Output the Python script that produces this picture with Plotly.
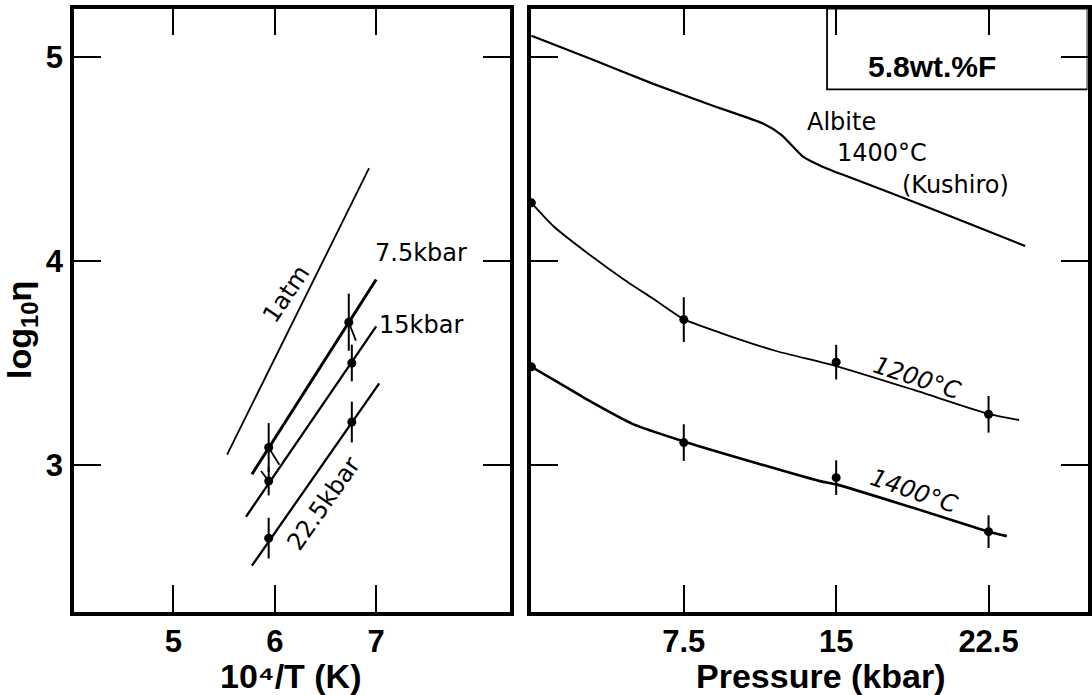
import plotly.graph_objects as go

# ---------------- Left panel data (10^4/T vs log10 eta) ----------------
atm_x = [5.53, 6.93]
atm_y = [3.05, 4.456]
kb75_x = [5.775, 7.0]
kb75_y = [2.954, 3.91]
kb15_x = [5.716, 7.0]
kb15_y = [2.745, 3.68]
kb225_x = [5.775, 7.03]
kb225_y = [2.505, 3.40]

pts75_x = [5.94, 6.73]
pts75_y = [3.085, 3.70]
err75 = [0.12, 0.14]
pts15_x = [5.94, 6.76]
pts15_y = [2.92, 3.50]
err15 = [0.07, 0.09]
pts225_x = [5.94, 6.76]
pts225_y = [2.64, 3.21]
err225 = [0.10, 0.10]

# short slanted error segments
terr_x = [5.94, 6.045, None, 5.865, 5.94, None, 6.73, 6.80]
terr_y = [3.085, 3.00, None, 2.97, 2.92, None, 3.70, 3.61]

left_xticks = [5, 6, 7]
yticks = [3, 4, 5]

# ---------------- Right panel data (Pressure vs log10 eta) ----------------
alb_x = [0, 3, 6, 9, 11.4, 12.3, 13.4, 14.3, 15.7, 18.2, 21.4, 24.3]
alb_y = [5.106, 4.99, 4.87, 4.76, 4.675, 4.62, 4.51, 4.465, 4.41, 4.315, 4.19, 4.074]

c1200_x = [0, 1.1, 2.75, 4.55, 6.0, 7.5, 9.3, 12.0, 15.0, 18.75, 22.5, 24.0]
c1200_y = [4.286, 4.17, 4.04, 3.91, 3.815, 3.715, 3.648, 3.56, 3.485, 3.37, 3.25, 3.22]

c1400_x = [0, 1.9, 2.75, 5.0, 7.5, 10.0, 14.2, 15.0, 18.75, 22.5, 23.4]
c1400_y = [3.481, 3.37, 3.32, 3.20, 3.115, 3.04, 2.92, 2.904, 2.79, 2.672, 2.65]

p1200_x = [0, 7.5, 15, 22.5]
p1200_y = [4.286, 3.713, 3.504, 3.248]
e1200 = [0, 0.11, 0.085, 0.09]
p1400_x = [0, 7.5, 15, 22.5]
p1400_y = [3.481, 3.109, 2.937, 2.672]
e1400 = [0, 0.09, 0.085, 0.08]

right_xticks = [7.5, 15, 22.5]
right_xticklabels = ["7.5", "15", "22.5"]

W, H = 1092, 695
fig = go.Figure()


def line(x, y, w, ax="", shape="linear"):
    fig.add_trace(go.Scatter(x=x, y=y, mode="lines",
                             line=dict(color="black", width=w, shape=shape, smoothing=0.6),
                             xaxis="x" + ax, yaxis="y" + ax, showlegend=False,
                             hoverinfo="skip", cliponaxis=False))


def points(x, y, e, ax=""):
    fig.add_trace(go.Scatter(x=x, y=y, mode="markers",
                             marker=dict(color="black", size=9),
                             error_y=dict(type="data", array=e, visible=True,
                                          color="black", thickness=2, width=0),
                             xaxis="x" + ax, yaxis="y" + ax, showlegend=False,
                             cliponaxis=False))


# left panel
line(atm_x, atm_y, 1.8)
line(kb75_x, kb75_y, 3.0)
line(kb15_x, kb15_y, 2.3)
line(kb225_x, kb225_y, 2.3)
line(terr_x, terr_y, 1.8)
points(pts75_x, pts75_y, err75)
points(pts15_x, pts15_y, err15)
points(pts225_x, pts225_y, err225)

# right panel
line(alb_x, alb_y, 2.2, "2", "spline")
line(c1200_x, c1200_y, 1.8, "2", "spline")
line(c1400_x, c1400_y, 2.6, "2", "spline")
points(p1200_x, p1200_y, e1200, "2")
points(p1400_x, p1400_y, e1400, "2")

tickfont = dict(family="Liberation Sans", size=31, color="black", weight="bold")
ydom = [1 - 611.5 / H, 1 - 8.5 / H]
common = dict(showline=True, linecolor="black", linewidth=3.5, mirror="ticks",
              ticks="inside", ticklen=27, tickwidth=1.6, tickcolor="black",
              showgrid=False, zeroline=False, tickfont=tickfont, fixedrange=True)

fig.update_layout(
    width=W, height=H,
    margin=dict(l=0, r=0, t=0, b=0),
    paper_bgcolor="white", plot_bgcolor="white",
    xaxis=dict(domain=[74 / W, 510 / W], range=[4.02, 8.32], tickvals=left_xticks,
               anchor="y", ticklabelstandoff=0, **common),
    yaxis=dict(domain=ydom, range=[2.28, 5.24], tickvals=yticks,
               anchor="x", ticklabelstandoff=1, **common),
    xaxis2=dict(domain=[531 / W, 1087.5 / W], range=[-0.02, 27.37], tickvals=right_xticks,
                ticktext=right_xticklabels, anchor="y2", ticklabelstandoff=0, **common),
    yaxis2=dict(domain=ydom, range=[2.28, 5.24], tickvals=yticks,
                anchor="x2", showticklabels=False, **common),
)

lab = dict(family="DejaVu Sans", size=24, color="black")
ann = []


def note(text, x, y, ax="", angle=0, xanchor="center", font=lab):
    ann.append(dict(text=text, x=x, y=y, xref="x" + ax, yref="y" + ax,
                    showarrow=False, textangle=angle, xanchor=xanchor,
                    yanchor="middle", font=font))


note("1atm", 6.113, 3.838, angle=-56)
note("7.5kbar", 7.443, 4.039)
note("15kbar", 7.443, 3.686)
note("22.5kbar", 6.478, 2.809, angle=-55)
note("Albite", 13.49, 4.685, "2", xanchor="left")
note("1400°C", 14.96, 4.530, "2", xanchor="left")
note("(Kushiro)", 18.16, 4.375, "2", xanchor="left")
note("<i>1200°C</i>", 18.98, 3.427, "2", angle=18)
note("<i>1400°C</i>", 18.81, 2.872, "2", angle=19)
note("5.8wt.%F", 19.72, 4.953, "2",
     font=dict(family="Liberation Sans", size=30, color="black", weight="bold"))

title_font = dict(family="Liberation Sans", size=34, color="black", weight="bold")
ann.append(dict(text="10⁴/T (K)", x=291 / W, y=1 - 676 / H, xref="paper", yref="paper",
                showarrow=False, font=title_font, xanchor="center", yanchor="middle"))
ann.append(dict(text="Pressure (kbar)", x=820 / W, y=1 - 676 / H, xref="paper", yref="paper",
                showarrow=False, font=title_font, xanchor="center", yanchor="middle"))
ann.append(dict(text="log<sub>10</sub>η", x=22 / W, y=1 - 330 / H, xref="paper", yref="paper",
                showarrow=False, font=title_font, textangle=-90,
                xanchor="center", yanchor="middle"))
fig.update_layout(annotations=ann)

# box around "5.8wt.%F"
fig.add_shape(type="rect", xref="x2", yref="y2", x0=14.55, x1=27.37, y0=4.843, y1=5.24,
              line=dict(color="black", width=1.8))

fig.write_html("out.html", config={"displayModeBar": False},
               post_script="document.body.style.margin='0';document.body.style.overflow='hidden';")
